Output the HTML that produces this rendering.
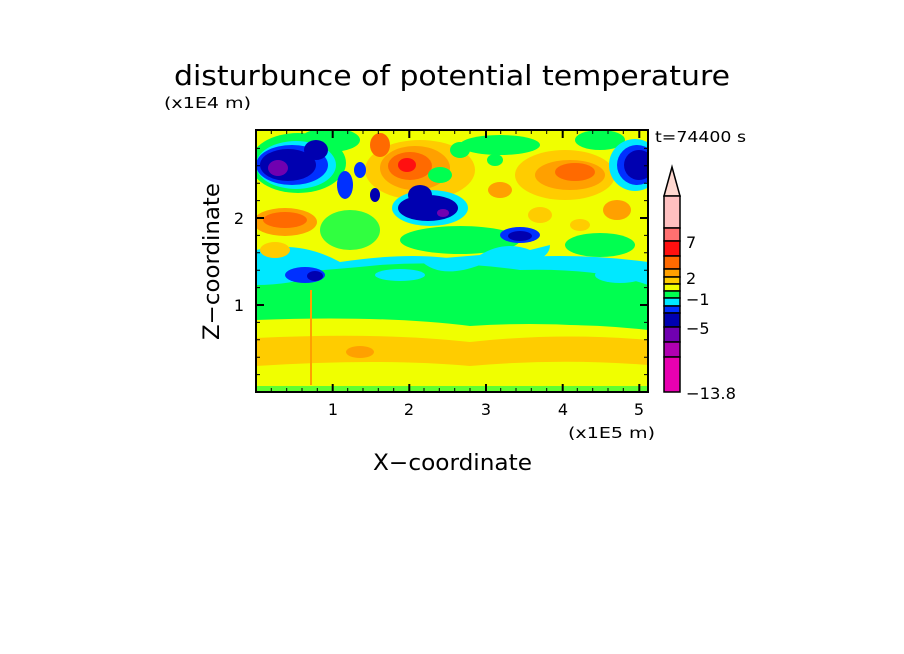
<!DOCTYPE html>
<html><head><style>body{margin:0;background:#fff}svg{display:block}text{font-family:"DejaVu Sans","Liberation Sans",sans-serif;fill:#000}</style></head>
<body>
<svg width="904" height="654" viewBox="0 0 904 654" xmlns="http://www.w3.org/2000/svg">
<defs><clipPath id="c"><rect x="256" y="130" width="392" height="262"/></clipPath></defs>
<g clip-path="url(#c)">
<rect x="256" y="130" width="392" height="262" fill="#f0ff00"/>
<ellipse cx="330" cy="140" rx="30" ry="12" fill="#00ff50"/>
<ellipse cx="500" cy="145" rx="40" ry="10" fill="#00ff50"/>
<ellipse cx="600" cy="140" rx="25" ry="10" fill="#00ff50"/>
<ellipse cx="460" cy="240" rx="60" ry="14" fill="#00ff50"/>
<ellipse cx="350" cy="230" rx="30" ry="20" fill="#00ff50" opacity="0.8"/>
<ellipse cx="600" cy="245" rx="35" ry="12" fill="#00ff50"/>
<ellipse cx="540" cy="215" rx="12" ry="8" fill="#ffcc00"/>
<ellipse cx="580" cy="225" rx="10" ry="6" fill="#ffcc00"/>
<path d="M256 250 Q300 240 340 262 Q420 250 470 262 Q560 250 648 262 L648 290 Q560 280 470 292 Q400 282 256 292Z" fill="#00e8ff"/>
<path d="M256 275 Q330 270 380 265 Q450 260 520 270 Q600 268 648 285 L648 330 Q560 320 470 330 Q380 320 256 320Z" fill="#00ff50"/>
<ellipse cx="400" cy="275" rx="25" ry="6" fill="#00e8ff"/>
<ellipse cx="620" cy="275" rx="25" ry="8" fill="#00e8ff"/>
<path d="M256 268 Q300 262 320 275 Q290 285 256 285Z" fill="#00e8ff"/>
<path d="M256 320 Q380 315 470 326 Q560 320 648 332 L648 345 Q560 335 470 345 Q380 338 256 340Z" fill="#f0ff00"/>
<path d="M256 338 Q380 332 470 342 Q560 332 648 340 L648 365 Q560 358 470 366 Q380 358 256 366Z" fill="#ffcc00"/>
<ellipse cx="360" cy="352" rx="14" ry="6" fill="#ffa000"/>
<rect x="256" y="386" width="392" height="6" fill="#00ff50" opacity="0.6"/>
<ellipse cx="298" cy="163" rx="48" ry="30" fill="#00ff50"/>
<ellipse cx="296" cy="165" rx="40" ry="24" fill="#00e8ff"/>
<ellipse cx="292" cy="165" rx="36" ry="20" fill="#0030ff"/>
<ellipse cx="288" cy="165" rx="28" ry="16" fill="#0000b0"/>
<ellipse cx="278" cy="168" rx="10" ry="8" fill="#7000b0"/>
<ellipse cx="316" cy="150" rx="12" ry="10" fill="#0000b0"/>
<ellipse cx="285" cy="222" rx="32" ry="14" fill="#ffa000"/>
<ellipse cx="285" cy="220" rx="22" ry="8" fill="#ff6a00"/>
<ellipse cx="275" cy="250" rx="15" ry="8" fill="#ffcc00"/>
<ellipse cx="420" cy="170" rx="55" ry="30" fill="#ffcc00"/>
<ellipse cx="415" cy="168" rx="35" ry="22" fill="#ffa000"/>
<ellipse cx="410" cy="166" rx="22" ry="14" fill="#ff6a00"/>
<ellipse cx="407" cy="165" rx="9" ry="7" fill="#ff1010"/>
<ellipse cx="380" cy="145" rx="10" ry="12" fill="#ff6a00"/>
<ellipse cx="440" cy="175" rx="12" ry="8" fill="#00ff50"/>
<ellipse cx="430" cy="208" rx="38" ry="18" fill="#00e8ff"/>
<ellipse cx="428" cy="208" rx="30" ry="13" fill="#0000b0"/>
<ellipse cx="420" cy="195" rx="12" ry="10" fill="#0000b0"/>
<ellipse cx="443" cy="213" rx="6" ry="4" fill="#7000b0"/>
<path d="M420 260 Q440 280 480 265 L520 265 Q550 260 550 245 L530 250 Q505 240 480 255 Z" fill="#00e8ff"/>
<ellipse cx="520" cy="235" rx="20" ry="8" fill="#0030ff"/>
<ellipse cx="520" cy="236" rx="12" ry="5" fill="#0000b0"/>
<ellipse cx="565" cy="175" rx="50" ry="25" fill="#ffcc00"/>
<ellipse cx="570" cy="175" rx="35" ry="15" fill="#ffa000"/>
<ellipse cx="575" cy="172" rx="20" ry="9" fill="#ff6a00"/>
<ellipse cx="617" cy="210" rx="14" ry="10" fill="#ffa000"/>
<ellipse cx="635" cy="165" rx="26" ry="26" fill="#00e8ff"/>
<ellipse cx="637" cy="165" rx="20" ry="20" fill="#0030ff"/>
<ellipse cx="639" cy="165" rx="15" ry="15" fill="#0000b0"/>
<ellipse cx="345" cy="185" rx="8" ry="14" fill="#0030ff"/>
<ellipse cx="360" cy="170" rx="6" ry="8" fill="#0030ff"/>
<ellipse cx="375" cy="195" rx="5" ry="7" fill="#0000b0"/>
<ellipse cx="305" cy="275" rx="20" ry="8" fill="#0030ff"/>
<ellipse cx="315" cy="276" rx="8" ry="5" fill="#0000b0"/>
<ellipse cx="460" cy="150" rx="10" ry="8" fill="#00ff50"/>
<ellipse cx="495" cy="160" rx="8" ry="6" fill="#00ff50"/>
<ellipse cx="500" cy="190" rx="12" ry="8" fill="#ffa000"/>
<rect x="310" y="290" width="2" height="95" fill="#ffa000"/>
</g>
<rect x="256" y="130" width="392" height="262" fill="none" stroke="#000" stroke-width="2"/>
<g stroke="#000" stroke-width="1">
<path d="M271.3 392v-4M286.7 392v-4M302 392v-4M317.3 392v-4M347.7 392v-4M363 392v-4M378.3 392v-4M393.7 392v-4M424 392v-4M439.3 392v-4M454.7 392v-4M470 392v-4M500.7 392v-4M516 392v-4M531.3 392v-4M546.7 392v-4M577.3 392v-4M592.7 392v-4M608 392v-4M623.3 392v-4"/>
<path d="M271.3 130v4M286.7 130v4M302 130v4M317.3 130v4M347.7 130v4M363 130v4M378.3 130v4M393.7 130v4M424 130v4M439.3 130v4M454.7 130v4M470 130v4M500.7 130v4M516 130v4M531.3 130v4M546.7 130v4M577.3 130v4M592.7 130v4M608 130v4M623.3 130v4"/>
<path d="M256 374.6h4M256 357.2h4M256 339.8h4M256 322.4h4M256 287.6h4M256 270.2h4M256 252.8h4M256 235.4h4M256 200.6h4M256 183.2h4M256 165.8h4M256 148.4h4"/>
<path d="M648 374.6h-4M648 357.2h-4M648 339.8h-4M648 322.4h-4M648 287.6h-4M648 270.2h-4M648 252.8h-4M648 235.4h-4M648 200.6h-4M648 183.2h-4M648 165.8h-4M648 148.4h-4"/>
</g>
<g stroke="#000" stroke-width="2">
<path d="M332.7 392v-8M409.3 392v-8M486 392v-8M562.7 392v-8M639.3 392v-8M332.7 130v8M409.3 130v8M486 130v8M562.7 130v8M639.3 130v8M256 305h8M256 218h8M648 305h-8M648 218h-8"/>
</g>
<g font-size="16" text-anchor="middle">
<text x="333" y="415">1</text><text x="409" y="415">2</text><text x="486" y="415">3</text><text x="563" y="415">4</text><text x="639" y="415">5</text>
</g>
<text x="244" y="311" font-size="16" text-anchor="end">1</text>
<text x="244" y="224" font-size="16" text-anchor="end">2</text>
<text x="568" y="438" font-size="15" textLength="87" lengthAdjust="spacingAndGlyphs">(x1E5 m)</text>
<text x="373" y="470" font-size="22" textLength="159" lengthAdjust="spacingAndGlyphs">X−coordinate</text>
<text x="219" y="340" font-size="22" textLength="157" lengthAdjust="spacingAndGlyphs" transform="rotate(-90 219 340)">Z−coordinate</text>
<text x="174" y="85" font-size="28" textLength="556" lengthAdjust="spacingAndGlyphs">disturbunce of potential temperature</text>
<text x="164" y="108" font-size="15" textLength="87" lengthAdjust="spacingAndGlyphs">(x1E4 m)</text>
<text x="655" y="142" font-size="15" textLength="91" lengthAdjust="spacingAndGlyphs">t=74400 s</text>
<g stroke="#000" stroke-width="1.5">
<path d="M664 196 L672 167 L680 196Z" fill="#ffd8d0"/>
<rect x="664" y="196" width="16" height="32" fill="#ffc0c0"/>
<rect x="664" y="228" width="16" height="13" fill="#ff7070"/>
<rect x="664" y="241" width="16" height="15" fill="#ff1010"/>
<rect x="664" y="256" width="16" height="13" fill="#ff6a00"/>
<rect x="664" y="269" width="16" height="8" fill="#ffa000"/>
<rect x="664" y="277" width="16" height="7" fill="#ffcc00"/>
<rect x="664" y="284" width="16" height="7" fill="#f0ff00"/>
<rect x="664" y="291" width="16" height="7" fill="#00ff50"/>
<rect x="664" y="298" width="16" height="8" fill="#00e8ff"/>
<rect x="664" y="306" width="16" height="7" fill="#0030ff"/>
<rect x="664" y="313" width="16" height="14" fill="#0000b0"/>
<rect x="664" y="327" width="16" height="15" fill="#7000b0"/>
<rect x="664" y="342" width="16" height="15" fill="#b000b0"/>
<rect x="664" y="357" width="16" height="35" fill="#e800b0"/>
</g>
<g font-size="16">
<text x="686" y="248">7</text><text x="686" y="284">2</text><text x="686" y="305">−1</text><text x="686" y="334">−5</text><text x="686" y="399" textLength="50" lengthAdjust="spacingAndGlyphs">−13.8</text>
</g>
</svg>
</body></html>
